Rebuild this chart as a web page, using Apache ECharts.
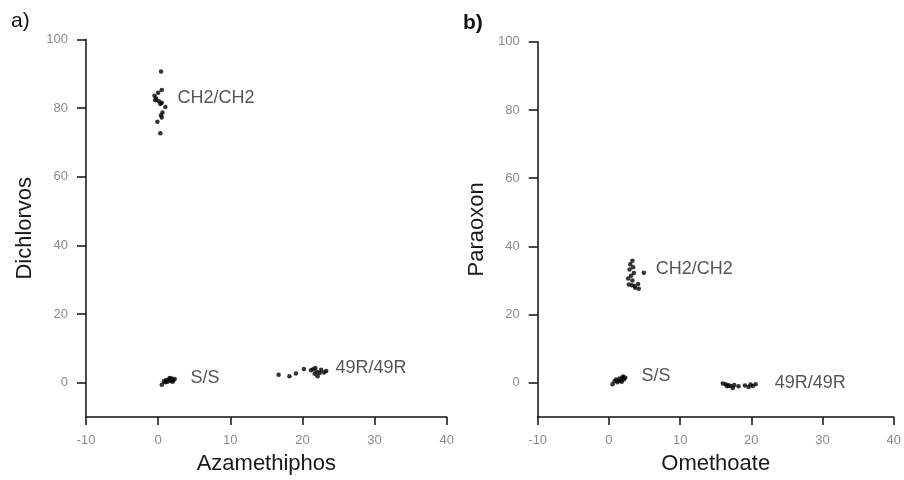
<!DOCTYPE html>
<html>
<head>
<meta charset="utf-8">
<script src="https://cdn.jsdelivr.net/npm/echarts@6/dist/echarts.min.js"></script>
<style>
html,body{margin:0;padding:0;background:#fff;}
#chart{width:904px;height:480px;}
</style>
</head>
<body>
<div id="chart"></div>
<script>
// Panel a: Azamethiphos (x) vs Dichlorvos (y)
var aCH2 = [[0.4,90.7],[0.5,85.3],[0.0,84.5],[-0.5,83.6],[-0.3,82.8],[0.1,82.0],[0.5,81.6],[0.3,81.2],[1.0,80.3],[0.6,78.7],[0.4,77.9],[0.5,77.3],[-0.1,76.0],[0.3,72.7],[-0.4,82.3]];
var aSS = [[0.5,-0.6],[0.8,0.4],[1.1,0.8],[1.3,0.3],[1.5,0.9],[1.7,0.5],[1.9,1.2],[2.1,0.7],[2.3,1.1],[1.0,0.1],[1.6,1.4],[2.0,0.3]];
var a49R = [[16.7,2.3],[18.2,1.9],[19.1,2.7],[20.2,4.0],[21.2,3.6],[21.5,3.9],[21.8,4.3],[22.0,3.2],[22.1,1.9],[22.4,2.8],[22.6,3.8],[23.0,3.0],[23.3,3.4],[21.7,2.6]];
var aLabels = [[2.6,82.8,'CH2/CH2'],[4.4,1.5,'S/S'],[24.5,4.2,'49R/49R']];

// Panel b: Omethoate (x) vs Paraoxon (y)
var bCH2 = [[3.3,35.8],[3.0,34.8],[3.4,33.9],[2.9,33.2],[3.5,32.2],[3.1,31.4],[2.7,30.6],[3.3,30.0],[2.8,28.8],[3.6,28.4],[4.1,29.0],[4.2,27.6],[3.7,27.9],[4.9,32.3],[3.2,28.6]];
var bSS = [[0.5,-0.4],[0.8,0.5],[1.0,1.0],[1.3,0.6],[1.5,1.3],[1.7,0.8],[1.9,1.6],[2.1,1.0],[2.3,1.5],[1.2,0.2],[1.8,0.3],[2.0,1.9]];
var b49R = [[16.0,-0.2],[16.4,-0.4],[16.8,-0.7],[17.1,-0.9],[17.4,-1.5],[17.6,-0.6],[18.2,-1.0],[19.1,-0.8],[19.6,-1.2],[19.9,-0.5],[20.2,-0.9],[20.6,-0.4],[16.6,-1.0]];
var bLabels = [[6.5,33.3,'CH2/CH2'],[4.5,1.9,'S/S'],[23.2,0.0,'49R/49R']];

var xTicks = [-10,0,10,20,30,40];
var yTicks = [0,20,40,60,80,100];
var xNames = ['Azamethiphos','Omethoate'];
var yNames = ['Dichlorvos','Paraoxon'];
var panelTitles = ['a)','b)'];

var FONT = '"Liberation Sans", Arial, Helvetica, sans-serif';

function xAxisFor(i){
  return {
    type:'value', gridIndex:i, min:xTicks[0], max:xTicks[xTicks.length-1],
    interval:xTicks[1]-xTicks[0],
    name:xNames[i], nameLocation:'middle', nameGap:36,
    nameTextStyle:{fontFamily:FONT,fontSize:22,color:'#1a1a1a'},
    axisLine:{onZero:false,lineStyle:{color:'#111',width:1.5}},
    axisTick:{show:true,length:8,lineStyle:{color:'#111',width:1.5}},
    axisLabel:{margin:17,fontFamily:FONT,fontSize:13,color:'#8a8a8a'},
    splitLine:{show:false}
  };
}
function yAxisFor(i){
  return {
    type:'value', gridIndex:i, min:-10, max:100,
    interval:20,
    name:yNames[i], nameLocation:'middle', nameGap:50,
    nameTextStyle:{fontFamily:FONT,fontSize:22,color:'#1a1a1a'},
    axisLine:{onZero:false,lineStyle:{color:'#111',width:1.5}},
    axisTick:{show:true,length:9,lineStyle:{color:'#111',width:1.5},
      customValues:yTicks},
    axisLabel:{margin:18,fontFamily:FONT,fontSize:13,color:'#8a8a8a',
      customValues:yTicks},
    splitLine:{show:false}
  };
}
function pts(data,i){
  return {type:'scatter',xAxisIndex:i,yAxisIndex:i,data:data,symbolSize:4.5,
    itemStyle:{color:'#000'},silent:true};
}
function labs(data,i){
  return {type:'scatter',xAxisIndex:i,yAxisIndex:i,data:data,symbolSize:1,
    itemStyle:{color:'rgba(0,0,0,0)'},silent:true,
    label:{show:true,position:'right',distance:0,fontFamily:FONT,fontSize:18,color:'#2a2a2a',
      formatter:function(p){return p.value[2];}},
    labelLayout:{hideOverlap:false}};
}

var chart = echarts.init(document.getElementById('chart'),null,{renderer:'canvas'});
chart.setOption({
  backgroundColor:'#fff',
  animation:false,
  title:[
    {text:panelTitles[0],left:6,top:6,textStyle:{fontFamily:FONT,fontSize:21,fontWeight:'normal',color:'#111'}},
    {text:panelTitles[1],left:458,top:8,textStyle:{fontFamily:FONT,fontSize:21,fontWeight:'bold',color:'#111'}}
  ],
  grid:[
    {left:86,top:39.5,width:360.7,height:380},
    {left:537.7,top:41.7,width:359,height:380}
  ],
  xAxis:[xAxisFor(0),xAxisFor(1)],
  yAxis:[yAxisFor(0),yAxisFor(1)],
  series:[
    pts(aCH2,0),pts(aSS,0),pts(a49R,0),labs(aLabels,0),
    pts(bCH2,1),pts(bSS,1),pts(b49R,1),labs(bLabels,1)
  ]
});
</script>
</body>
</html>
